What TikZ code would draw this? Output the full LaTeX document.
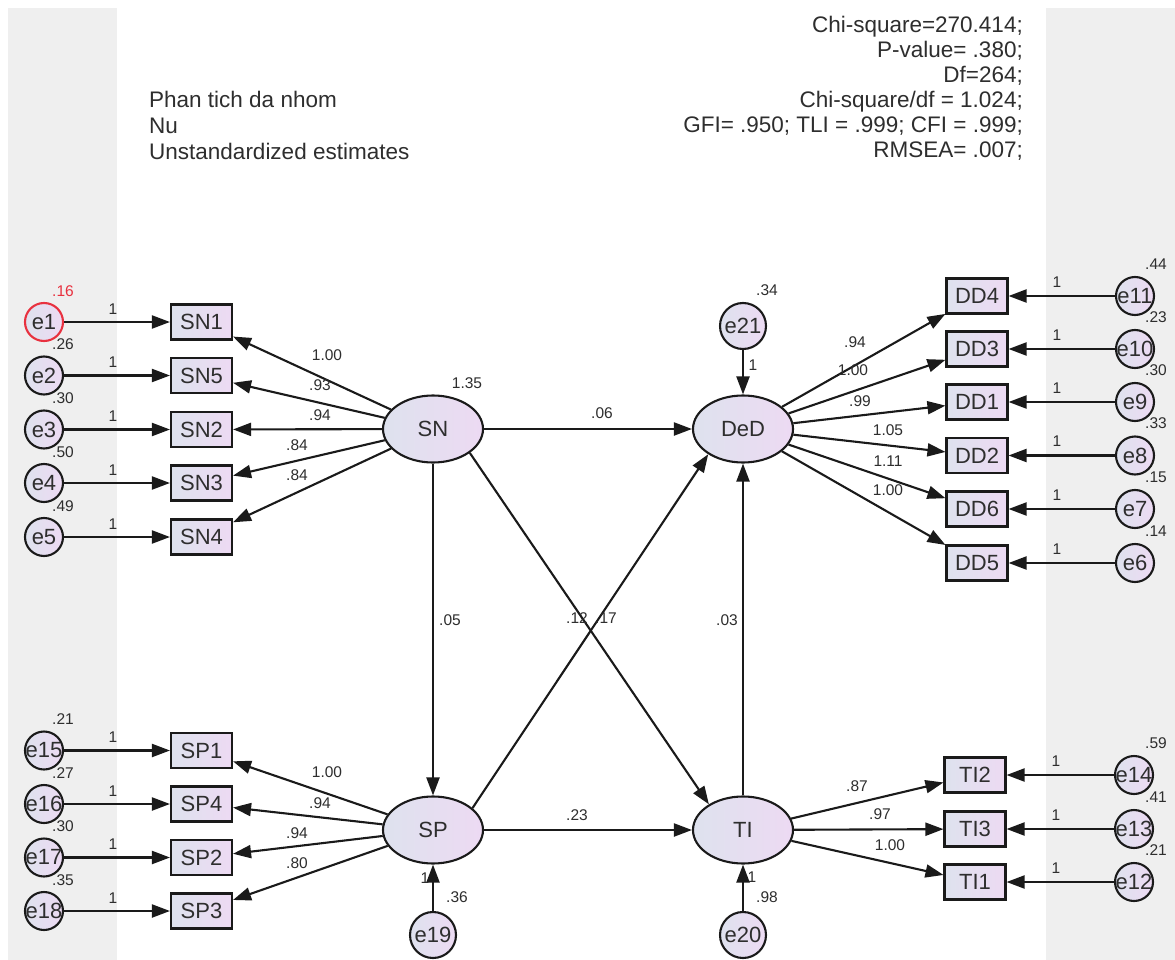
\documentclass[tikz,border=0pt]{standalone}
\usepackage{fontspec}
\setmainfont{Liberation Sans}
\usetikzlibrary{arrows.meta,shapes.geometric}
\definecolor{ink}{HTML}{1A1A1A}
\definecolor{txt}{HTML}{2E2E2E}
\definecolor{panel}{HTML}{EFEFEF}
\definecolor{fillL}{HTML}{DEE2EE}
\definecolor{fillR}{HTML}{EDDAF3}
\definecolor{hot}{HTML}{E8313F}

\begin{document}
\begin{tikzpicture}[x=1pt,y=-1pt,
  every node/.style={text=txt},
  lavender/.style={left color=fillL,right color=fillR},
  obs/.style={rectangle, draw=ink, line width=2.1pt, lavender, minimum width=61pt,
    minimum height=35pt, inner sep=0pt, font=\fontsize{22}{24}\selectfont},
  lat/.style={ellipse, draw=ink, line width=2.1pt, lavender, minimum width=100pt,
    minimum height=67pt, inner sep=0pt, font=\fontsize{22}{24}\selectfont},
  err/.style={circle, draw=ink, line width=2.1pt, lavender, minimum size=38pt, inner sep=0pt},
  serr/.style={err, minimum size=46pt},
  every label/.style={font=\fontsize{22}{24}\selectfont, inner sep=0pt, text=txt},
  num/.style={font=\fontsize{15.5}{17}\selectfont, inner sep=0pt},
  head/.style={font=\fontsize{22.5}{26}\selectfont, inner sep=0pt},
  link/.style={draw=ink, line width=2.1pt, -{Triangle[length=18pt,width=13pt]}},
]
% canvas and side panels
\useasboundingbox (0,0) rectangle (1175,960);
\fill[white] (0,0) rectangle (1175,960);
\fill[panel] (8,8) rectangle (117,960);
\fill[panel] (1046,8) rectangle (1175,960);

% titles
\node[head, anchor=base west] (t1) at (149,108) {Phan tich da nhom};
\node[head, anchor=base west] (t2) at (149,134) {Nu};
\node[head, anchor=base west] (t3) at (149,160) {Unstandardized estimates};

% fit statistics
\node[head, anchor=base east] (f1) at (1023,33)  {Chi-square=270.414;};
\node[head, anchor=base east] (f2) at (1023,58)  {P-value= .380;};
\node[head, anchor=base east] (f3) at (1023,83)  {Df=264;};
\node[head, anchor=base east] (f4) at (1023,108) {Chi-square/df = 1.024;};
\node[head, anchor=base east] (f5) at (1023,133) {GFI= .950; TLI = .999; CFI = .999;};
\node[head, anchor=base east] (f6) at (1023,158) {RMSEA= .007;};

% latent constructs
\node[lat] (SN)  at (433,429) {SN};
\node[lat] (DeD) at (743,429) {DeD};
\node[lat] (SP)  at (433,830) {SP};
\node[lat] (TI)  at (743,830) {TI};

% structural disturbances
\node[serr, label=center:e21] (e21) at (743,326) {};
\node[serr, label=center:e19] (e19) at (433,935) {};
\node[serr, label=center:e20] (e20) at (743,935) {};
\draw[link] (e21) -- (DeD);
\draw[link] (e19) -- (SP);
\draw[link] (e20) -- (TI);
\node[num] (v21) at (767,290) {.34};
\node[num] (w21) at (753,365) {1};
\node[num] (v19) at (457,897) {.36};
\node[num] (w19) at (425,878) {1};
\node[num] (v20) at (767,897) {.98};
\node[num] (w20) at (752,877) {1};
\node[num] (vSN) at (467,383) {1.35};

% SN indicators
\node[obs] (SN1) at (201.5,322) {SN1};
\node[err, draw=hot, label=center:e1] (e1) at (44,322) {};
\draw[link] (e1) -- (SN1);
\node[num] (w-e1) at (113,309) {1};
\node[num, text=hot] (v-e1) at (63,291) {.16};
\foreach \yy/\ob/\er/\vv in {375.5/SN5/e2/.26, 429.5/SN2/e3/.30, 483/SN3/e4/.50, 537/SN4/e5/.49}{
  \node[obs] (\ob) at (201.5,\yy) {\ob};
  \node[err, label=center:\er] (\er) at (44,\yy) {};
  \draw[link] (\er) -- (\ob);
  \node[num] (w-\er) at (113,\yy-13) {1};
  \node[num] (v-\er) at (63,\yy-31) {\vv};
}

% SP indicators
\foreach \yy/\ob/\er/\vv in {750.5/SP1/e15/.21, 804/SP4/e16/.27, 857.5/SP2/e17/.30, 911/SP3/e18/.35}{
  \node[obs] (\ob) at (201.5,\yy) {\ob};
  \node[err, label=center:\er] (\er) at (44,\yy) {};
  \draw[link] (\er) -- (\ob);
  \node[num] (w-\er) at (113,\yy-13) {1};
  \node[num] (v-\er) at (63,\yy-31) {\vv};
}

% DeD indicators
\foreach \yy/\ob/\er/\vv in {296/DD4/e11/.44, 349/DD3/e10/.23, 402/DD1/e9/.30, 455.5/DD2/e8/.33, 509/DD6/e7/.15, 563/DD5/e6/.14}{
  \node[obs] (\ob) at (977,\yy) {\ob};
  \node[err, label=center:\er] (\er) at (1135,\yy) {};
  \draw[link] (\er) -- (\ob);
  \node[num] (w-\er) at (1057,\yy-14) {1};
  \node[num] (v-\er) at (1156,\yy-32) {\vv};
}

% TI indicators
\foreach \yy/\ob/\er/\vv in {775/TI2/e14/.59, 829/TI3/e13/.41, 882/TI1/e12/.21}{
  \node[obs] (\ob) at (975,\yy) {\ob};
  \node[err, label=center:\er] (\er) at (1134,\yy) {};
  \draw[link] (\er) -- (\ob);
  \node[num] (w-\er) at (1056,\yy-14) {1};
  \node[num] (v-\er) at (1156,\yy-32) {\vv};
}

% loadings
\foreach \ob in {SN1,SN5,SN2,SN3,SN4} \draw[link] (SN) -- (\ob);
\foreach \ob in {SP1,SP4,SP2,SP3} \draw[link] (SP) -- (\ob);
\foreach \ob in {DD4,DD3,DD1,DD2,DD6,DD5} \draw[link] (DeD) -- (\ob);
\foreach \ob in {TI2,TI3,TI1} \draw[link] (TI) -- (\ob);

\foreach \xx/\yy/\tt [count=\k] in {327/355/1.00, 320/385/.93, 320/415/.94, 297/445/.84, 297/475/.84}
  \node[num] (lSN\k) at (\xx,\yy) {\tt};
\foreach \xx/\yy/\tt [count=\k] in {327/772/1.00, 320/803/.94, 297/833/.94, 297/863/.80}
  \node[num] (lSP\k) at (\xx,\yy) {\tt};
\foreach \xx/\yy/\tt [count=\k] in {855/342/.94, 853/370/1.00, 860/401/.99, 888/430/1.05, 888/461/1.11, 888/490/1.00}
  \node[num] (lDD\k) at (\xx,\yy) {\tt};
\foreach \xx/\yy/\tt [count=\k] in {857/786/.87, 880/814/.97, 890/845/1.00}
  \node[num] (lTI\k) at (\xx,\yy) {\tt};

% structural paths
\draw[link] (SN) -- (DeD);
\draw[link] (SN) -- (SP);
\draw[link] (SP) -- (TI);
\draw[link] (TI) -- (DeD);
\draw[link] (SN.-33) -- (TI.143);
\draw[link] (SP.29) -- (DeD.-144);
\node[num] (p1) at (602,413) {.06};
\node[num] (p2) at (577,815) {.23};
\node[num] (p3) at (450,620) {.05};
\node[num] (p4) at (577,618) {.12};
\node[num] (p5) at (606,618) {.17};
\node[num] (p6) at (727,620) {.03};
\end{tikzpicture}
\end{document}
